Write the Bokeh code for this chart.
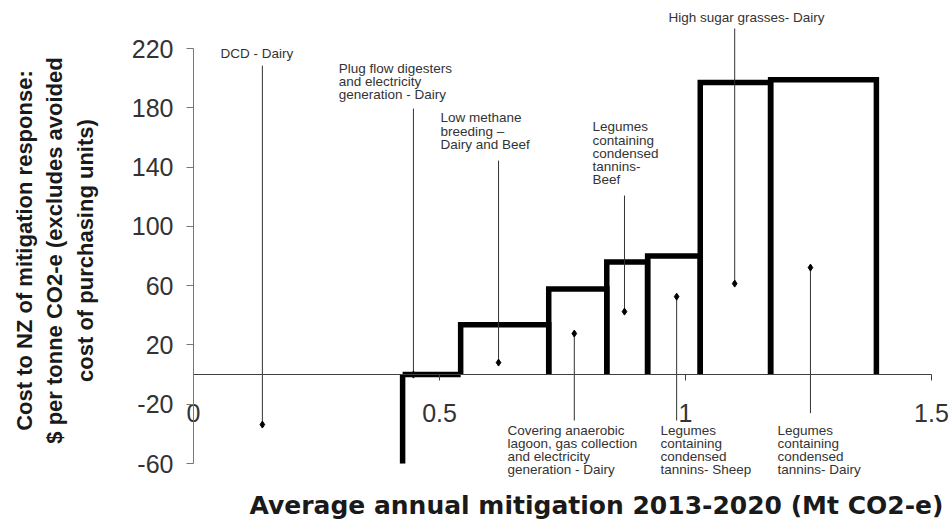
import math
from bokeh.plotting import figure
from bokeh.models import Range1d, FixedTicker, ColumnDataSource, LabelSet, Label
from bokeh.embed import file_html
from bokeh.resources import INLINE
from bokeh.core.properties import value

# ---- data ----
measures = [
    "DCD - Dairy",
    "Plug flow digesters\nand electricity\ngeneration - Dairy",
    "Low methane\nbreeding \u2013\nDairy and Beef",
    "Covering anaerobic\nlagoon, gas collection\nand electricity\ngeneration - Dairy",
    "Legumes\ncontaining\ncondensed\ntannins-\nBeef",
    "Legumes\ncontaining\ncondensed\ntannins- Sheep",
    "High sugar grasses- Dairy",
    "Legumes\ncontaining\ncondensed\ntannins- Dairy",
]
# average annual mitigation of each measure (Mt CO2-e)
mitigation = [0.425, 0.118, 0.179, 0.118, 0.083, 0.107, 0.143, 0.215]
# cost ($ per tonne CO2-e); DCD runs below the visible range
cost = [-100, 0, 33.7, 57.8, 76, 80, 197, 199]

# leader lines: x within each bar, dot value, other end value
leader_x = [0.140, 0.447, 0.620, 0.774, 0.876, 0.982, 1.100, 1.254]
leader_dot = [-33.7, 0, 8.1, 27.7, 42.5, 52.6, 61.4, 72.2]
leader_end = [208.5, 179.5, 144.4, -31, 120.8, -31, 233.5, -26]

# label anchors (top-left of text block)
label_x = [0.055, 0.295, 0.502, 0.638, 0.811, 0.949, 0.9654, 1.187]
label_y = [221.4, 211.9, 178.2, -32.4, 172.2, -32.4, 246.3, -32.4]

x_ticks = [0, 0.5, 1, 1.5]
x_tick_labels = ["0", "0.5", "1", "1.5"]
y_ticks = [-60, -20, 20, 60, 100, 140, 180, 220]
y_tick_labels = ["-60", "-20", "20", "60", "100", "140", "180", "220"]

y_min, y_max = y_ticks[0], y_ticks[-1]
x_min, x_max = x_ticks[0], x_ticks[-1]

# ---- build bar outlines (open at bottom), clipped at the axis minimum ----
xs, ys = [], []
left = 0.0
for i, (w, c) in enumerate(zip(mitigation, cost)):
    right = left + w
    cc = max(c, y_min)
    if i == 0:
        xs.append([right, right]); ys.append([cc, 0])
    else:
        xs.append([left, left, right, right]); ys.append([0, cc, cc, 0])
    left = right

W, H = 952, 521
p = figure(width=W, height=H, output_backend="svg", toolbar_location=None,
           x_range=Range1d(-0.3923, 1.5427), y_range=Range1d(-99.1, 252.4),
           min_border_left=0, min_border_right=0, min_border_top=0,
           min_border_bottom=0)
p.outline_line_color = None
p.grid.visible = False
p.background_fill_color = "white"
p.border_fill_color = "white"

p.multi_line(xs=xs, ys=ys, line_color="black", line_width=5.5, line_join="miter")

src = ColumnDataSource(dict(x=leader_x, y0=leader_dot, y1=leader_end,
                            lx=label_x, ly=label_y, text=measures))
p.segment(x0="x", y0="y0", x1="x", y1="y1", source=src, line_color="#333333", line_width=1)
p.scatter(x="x", y="y0", source=src, marker="diamond", size=7, color="black")

labels = LabelSet(x="lx", y="ly", text="text", source=src,
                  text_font=value("Liberation Sans"), text_font_size="13.5px",
                  text_color="#333333", text_align="left", text_baseline="top",
                  text_line_height=0.88)
p.add_layout(labels)

# axes
xa = p.xaxis[0]
xa.fixed_location = 0
xa.bounds = (x_min, x_max)
xa.ticker = FixedTicker(ticks=x_ticks)
xa.major_label_overrides = {t: s for t, s in zip(x_ticks, x_tick_labels)}
xa.minor_tick_line_color = None
xa.major_tick_in = 0
xa.major_tick_out = 6
xa.axis_line_color = "#404040"
xa.major_tick_line_color = "#404040"
xa.major_label_standoff = 23
xa.major_label_text_font = "Liberation Sans"
xa.major_label_text_font_size = "25px"
xa.major_label_text_color = "#333333"

ya = p.yaxis[0]
ya.fixed_location = 0
ya.bounds = (y_min, y_max)
ya.ticker = FixedTicker(ticks=y_ticks)
ya.major_label_overrides = {t: s for t, s in zip(y_ticks, y_tick_labels)}
ya.minor_tick_line_color = None
ya.major_tick_in = 0
ya.major_tick_out = 7
ya.axis_line_color = "#777777"
ya.major_tick_line_color = "#777777"
ya.major_label_standoff = 13
ya.major_label_text_font = "Liberation Sans"
ya.major_label_text_font_size = "25px"
ya.major_label_text_color = "#333333"

# axis titles
ytitle = ["Cost to NZ of mitigation response:",
          "$ per tonne CO2-e (excludes avoided",
          "cost of purchasing units)"]
for t, xx in zip(ytitle, [-0.3435, -0.2835, -0.2195]):
    p.add_layout(Label(x=xx, y=83.7, text=t, angle=math.pi / 2,
                       text_align="center", text_baseline="middle",
                       text_font="Liberation Sans", text_font_style="bold",
                       text_font_size="22px", text_color="#1a1a1a"))

p.add_layout(Label(x=0.819, y=-88.0, text="Average annual mitigation 2013-2020 (Mt CO2-e)",
                   text_align="center", text_baseline="middle",
                   text_font="DejaVu Sans", text_font_style="bold",
                   text_font_size="25px", text_color="#1a1a1a"))

open("out.html", "w").write(file_html(p, INLINE))
